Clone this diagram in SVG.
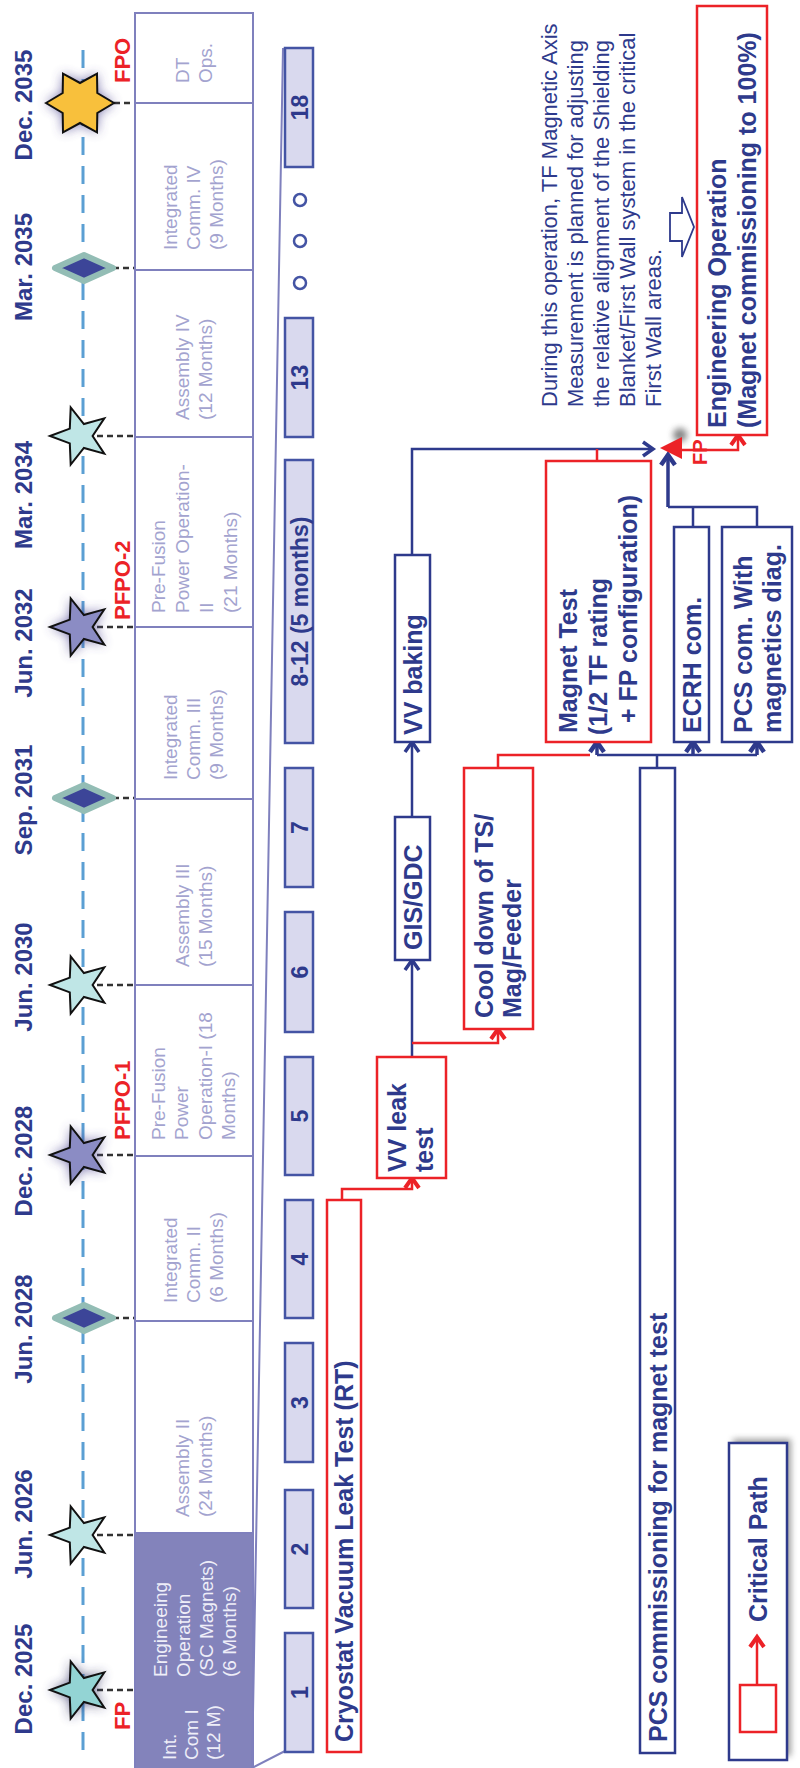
<svg xmlns="http://www.w3.org/2000/svg" width="800" height="1768" viewBox="0 0 800 1768">
<style>
text{font-family:"Liberation Sans",Arial,sans-serif}
.date{font-size:24px;font-weight:bold;fill:#2e3a8c;text-anchor:middle}
.ms{font-size:22px;font-weight:bold;fill:#ec2227}
.ph{font-size:19px;fill:#a3a3cf}
.phw{font-size:19px;fill:#eeeef8}
.cell{fill:none;stroke:#7f80bd;stroke-width:2}
.bar{fill:#d9d9ee;stroke:#4454a4;stroke-width:2.5}
.bt{font-size:23px;font-weight:bold;fill:#2e3a8c;text-anchor:middle}
.nb{fill:#fff;stroke:#2e3a8c;stroke-width:2.5}
.rb{fill:#fff;stroke:#ec2227;stroke-width:2.5}
.nt{font-size:25px;font-weight:bold;fill:#2e3a8c}
.ann{font-size:22px;fill:#2e3a8c}
.cn{fill:none;stroke:#2e3a8c;stroke-width:2.5}
.cnt{fill:none;stroke:#2e3a8c;stroke-width:3.5}
.cr{fill:none;stroke:#ec2227;stroke-width:2.5}
.dash{stroke:#333;stroke-width:2.5;stroke-dasharray:6 4}
.cstar{fill:#bfe6e6;stroke:#111;stroke-width:2}
.lstar{fill:#8b8cc4;stroke:#111;stroke-width:2}
.dia{fill:#3c4598;stroke:#93bdb5;stroke-width:6;stroke-linejoin:round}
.glow{fill:#4a3f8f;opacity:0.75;filter:url(#blur)}
</style>
<defs>
<filter id="blur" x="-60%" y="-60%" width="220%" height="220%"><feGaussianBlur stdDeviation="6"/></filter>
<filter id="blur2" x="-60%" y="-60%" width="220%" height="220%"><feGaussianBlur stdDeviation="3"/></filter>
<path id="star5" d="M0,-30 L7.4,-10.2 L28.5,-9.3 L12,3.9 L17.6,24.3 L0,12.6 L-17.6,24.3 L-12,3.9 L-28.5,-9.3 L-7.4,-10.2 Z"/>
<path id="star6" d="M0,-34 L10,-17.3 L29.4,-17 L20,0 L29.4,17 L10,17.3 L0,34 L-10,17.3 L-29.4,17 L-20,0 L-29.4,-17 L-10,-17.3 Z"/>
<path id="dia" d="M0,-29 L13,0 L0,29 L-13,0 Z"/>
<marker id="an" viewBox="-14 -10 18 20" refX="0" refY="0" markerWidth="18" markerHeight="20" markerUnits="userSpaceOnUse" orient="auto"><path d="M-10,-7 L0,0 L-10,7" fill="none" stroke="#2e3a8c" stroke-width="3.5"/></marker>
<marker id="ant" viewBox="-14 -10 18 20" refX="0" refY="0" markerWidth="18" markerHeight="20" markerUnits="userSpaceOnUse" orient="auto"><path d="M-10,-7 L0,0 L-10,7" fill="none" stroke="#2e3a8c" stroke-width="4.5"/></marker>
<marker id="ar" viewBox="-14 -10 18 20" refX="0" refY="0" markerWidth="18" markerHeight="20" markerUnits="userSpaceOnUse" orient="auto"><path d="M-10,-7 L0,0 L-10,7" fill="none" stroke="#ec2227" stroke-width="4"/></marker>
</defs>
<g transform="translate(0 1768) rotate(-90)">
<g id="timeline"><line x1="18" y1="83" x2="1728" y2="83" stroke="#5b9fd3" stroke-width="3" stroke-dasharray="18 11"/></g>
<g id="dates">
<text class="date" x="1663" y="32">Dec. 2035</text>
<text class="date" x="1501" y="32">Mar. 2035</text>
<text class="date" x="1273" y="32">Mar. 2034</text>
<text class="date" x="1125" y="32">Jun. 2032</text>
<text class="date" x="968" y="32">Sep. 2031</text>
<text class="date" x="791" y="32">Jun. 2030</text>
<text class="date" x="607" y="32">Dec. 2028</text>
<text class="date" x="439" y="32">Jun. 2028</text>
<text class="date" x="244" y="32">Jun. 2026</text>
<text class="date" x="89" y="32">Dec. 2025</text>
</g>
<g id="ms-dec2035"><line class="dash" x1="1665" y1="114" x2="1665" y2="135"/><use href="#star6" x="1665" y="80" class="glow"/><use href="#star6" x="1665" y="80" fill="#f8c03c" stroke="#111" stroke-width="2"/><text class="ms" x="1685" y="130">FPO</text></g>
<g id="ms-mar2035"><line class="dash" x1="1500" y1="113" x2="1500" y2="135"/><use href="#dia" x="1500" y="84" class="dia"/></g>
<g id="ms-mar2034"><line class="dash" x1="1332" y1="97" x2="1332" y2="135"/><use href="#star5" x="1332" y="80" class="cstar"/></g>
<g id="ms-jun2032"><line class="dash" x1="1141" y1="97" x2="1141" y2="135"/><use href="#star5" x="1141" y="80" class="glow"/><use href="#star5" x="1141" y="80" class="lstar"/><text class="ms" x="1148" y="130">PFPO-2</text></g>
<g id="ms-sep2031"><line class="dash" x1="970" y1="113" x2="970" y2="135"/><use href="#dia" x="970" y="84" class="dia"/></g>
<g id="ms-jun2030"><line class="dash" x1="783" y1="97" x2="783" y2="135"/><use href="#star5" x="783" y="80" class="cstar"/></g>
<g id="ms-dec2028"><line class="dash" x1="613" y1="97" x2="613" y2="135"/><use href="#star5" x="613" y="80" class="glow"/><use href="#star5" x="613" y="80" class="lstar"/><text class="ms" x="628" y="130">PFPO-1</text></g>
<g id="ms-jun2028"><line class="dash" x1="450" y1="113" x2="450" y2="135"/><use href="#dia" x="450" y="84" class="dia"/></g>
<g id="ms-jun2026"><line class="dash" x1="233" y1="97" x2="233" y2="135"/><use href="#star5" x="233" y="80" class="cstar"/></g>
<g id="ms-dec2025"><line class="dash" x1="78" y1="97" x2="78" y2="135"/><use href="#star5" x="78" y="80" class="glow" style="fill:#2a2a60"/><use href="#star5" x="78" y="80" class="cstar" style="fill:#93d4d4"/><text class="ms" x="38" y="130">FP</text></g>
<g id="phase-table">
<rect x="0" y="135" width="235" height="118" fill="#8383bb"/>
<rect class="cell" x="-2" y="135" width="1757" height="118"/>
<path class="cell" d="M1665,135V253M1498,135V253M1331,135V253M1141,135V253M969,135V253M783,135V253M612,135V253M447,135V253M235,135V253"/>
<text class="ph"><tspan x="1685" y="189">DT</tspan><tspan x="1685" y="212">Ops.</tspan></text>
<text class="ph"><tspan x="1518" y="177">Integrated</tspan><tspan x="1518" y="200">Comm. IV</tspan><tspan x="1518" y="223">(9 Months)</tspan></text>
<text class="ph"><tspan x="1348" y="189">Assembly IV</tspan><tspan x="1348" y="212">(12 Months)</tspan></text>
<text class="ph"><tspan x="1155" y="165">Pre-Fusion</tspan><tspan x="1155" y="189">Power Operation-</tspan><tspan x="1155" y="213">II</tspan><tspan x="1155" y="237">(21 Months)</tspan></text>
<text class="ph"><tspan x="988" y="177">Integrated</tspan><tspan x="988" y="200">Comm. III</tspan><tspan x="988" y="223">(9 Months)</tspan></text>
<text class="ph"><tspan x="801" y="189">Assembly III</tspan><tspan x="801" y="212">(15 Months)</tspan></text>
<text class="ph"><tspan x="628" y="165">Pre-Fusion</tspan><tspan x="628" y="188">Power</tspan><tspan x="628" y="212">Operation-I (18</tspan><tspan x="628" y="235">Months)</tspan></text>
<text class="ph"><tspan x="465" y="177">Integrated</tspan><tspan x="465" y="200">Comm. II</tspan><tspan x="465" y="223">(6 Months)</tspan></text>
<text class="ph"><tspan x="251" y="189">Assembly II</tspan><tspan x="251" y="212">(24 Months)</tspan></text>
<text class="phw"><tspan x="91" y="167">Engineeing</tspan><tspan x="91" y="190">Operation</tspan><tspan x="91" y="213">(SC Magnets)</tspan><tspan x="91" y="236">(6 Months)</tspan></text>
<text class="phw"><tspan x="8" y="176">Int.</tspan><tspan x="8" y="198">Com I</tspan><tspan x="8" y="220">(12 M)</tspan></text>
</g>
<g id="month-bars">
<path d="M1720,283 L0,252 L17,285" fill="none" stroke="#7f80bd" stroke-width="2"/>
<rect class="bar" x="16" y="285" width="119" height="28"/><text class="bt" x="75.5" y="308">1</text>
<rect class="bar" x="160" y="285" width="118" height="28"/><text class="bt" x="219" y="308">2</text>
<rect class="bar" x="306" y="285" width="119" height="28"/><text class="bt" x="365.5" y="308">3</text>
<rect class="bar" x="450" y="285" width="118" height="28"/><text class="bt" x="509" y="308">4</text>
<rect class="bar" x="593" y="285" width="118" height="28"/><text class="bt" x="652" y="308">5</text>
<rect class="bar" x="736" y="285" width="120" height="28"/><text class="bt" x="796" y="308">6</text>
<rect class="bar" x="881" y="285" width="119" height="28"/><text class="bt" x="940.5" y="308">7</text>
<rect class="bar" x="1025" y="285" width="283" height="28"/><text class="bt" x="1166.5" y="308">8-12 (5 months)</text>
<rect class="bar" x="1331" y="285" width="119" height="28"/><text class="bt" x="1390.5" y="308">13</text>
<circle cx="1485" cy="300" r="6" fill="none" stroke="#4454a4" stroke-width="2.5"/>
<circle cx="1527" cy="300" r="6" fill="none" stroke="#4454a4" stroke-width="2.5"/>
<circle cx="1568" cy="300" r="6" fill="none" stroke="#4454a4" stroke-width="2.5"/>
<rect class="bar" x="1601" y="285" width="119" height="28"/><text class="bt" x="1660.5" y="308">18</text>
</g>
<g id="connectors">
<path class="cr" d="M568,342 H579 V412 H590" marker-end="url(#ar)"/>
<path class="cn" d="M711,412 H808" marker-end="url(#an)"/>
<path class="cr" d="M725,412 V498 H739" marker-end="url(#ar)"/>
<path class="cn" d="M951,412 H1026" marker-end="url(#an)"/>
<path class="cn" d="M1213,412 H1319 V653" marker-end="url(#an)"/>
<path class="cr" d="M1307,597 H1319"/>
<path class="cr" d="M1000,498 H1013 V590"/>
<path class="cn" d="M1000,657 H1013 M1013,597 V757"/>
<path class="cnt" d="M1013,597 H1026" marker-end="url(#ant)"/>
<path class="cnt" d="M1013,693 H1026" marker-end="url(#ant)"/>
<path class="cnt" d="M1013,757 H1026" marker-end="url(#ant)"/>
<path class="cn" d="M1241,693 H1261 M1241,757 H1261 V668"/>
<path class="cnt" d="M1261,668 H1313" marker-end="url(#ant)"/>
<circle cx="1333" cy="680" r="7" fill="#555" opacity="0.7" filter="url(#blur2)"/>
<path d="M1320,660 L1331,682 L1309,682 Z" fill="#ec2227"/>
<path class="cr" d="M1318,682 V738 H1333" marker-end="url(#ar)"/>
<text class="ms" style="font-size:20px" x="1303" y="707">FP</text>
</g>
<g id="node-cryostat"><rect class="rb" x="16" y="327" width="552" height="34"/><text class="nt" x="26" y="353">Cryostat Vacuum Leak Test (RT)</text></g>
<g id="node-vvleak"><rect class="rb" x="590" y="377" width="121" height="69"/><text class="nt"><tspan x="596" y="406">VV leak</tspan><tspan x="596" y="433">test</tspan></text></g>
<g id="node-gis"><rect class="nb" x="808" y="395" width="143" height="35"/><text class="nt" x="818" y="422">GIS/GDC</text></g>
<g id="node-cooldown"><rect class="rb" x="739" y="464" width="261" height="69"/><text class="nt"><tspan x="750" y="493">Cool down of TS/</tspan><tspan x="750" y="521">Mag/Feeder</tspan></text></g>
<g id="node-vvbaking"><rect class="nb" x="1026" y="395" width="187" height="35"/><text class="nt" x="1033" y="422">VV baking</text></g>
<g id="node-magnet"><rect class="rb" x="1026" y="546" width="281" height="105"/><text class="nt"><tspan x="1035" y="577">Magnet Test</tspan><tspan x="1033" y="607">(1/2 TF rating</tspan><tspan x="1045" y="637">+ FP configuration)</tspan></text></g>
<g id="node-ecrh"><rect class="nb" x="1026" y="674" width="215" height="35"/><text class="nt" x="1035" y="701">ECRH com.</text></g>
<g id="node-pcsdiag"><rect class="nb" x="1026" y="722" width="215" height="70"/><text class="nt"><tspan x="1035" y="752">PCS com. With</tspan><tspan x="1035" y="781">magnetics diag.</tspan></text></g>
<g id="node-pcs"><rect class="nb" x="15" y="640" width="985" height="35"/><text class="nt" x="26" y="667">PCS commissioning for magnet test</text></g>
<g id="node-engop"><rect class="rb" x="1333" y="697" width="429" height="70"/><text class="nt"><tspan x="1340" y="726">Engineering Operation</tspan><tspan x="1340" y="756">(Magnet commissioning to 100%)</tspan></text></g>
<g id="note"><text class="ann"><tspan x="1361" y="557">During this operation, TF Magnetic Axis</tspan><tspan x="1361" y="583">Measurement is planned for adjusting</tspan><tspan x="1361" y="609">the relative alignment of the Shielding</tspan><tspan x="1361" y="635">Blanket/First Wall system in the critical</tspan><tspan x="1361" y="661">First Wall areas.</tspan></text>
<path d="M1527,670 H1555 V682 H1571 L1541,694 L1511,682 H1527 Z" fill="#fff" stroke="#2e3a8c" stroke-width="1.8"/></g>
<g id="legend">
<rect x="12" y="733" width="317" height="58" fill="#777" opacity="0.7" filter="url(#blur2)"/>
<rect x="8" y="729" width="317" height="58" fill="#fff" stroke="#2e3a8c" stroke-width="2.5"/>
<rect x="36" y="740" width="47" height="36" fill="#fff" stroke="#ec2227" stroke-width="2.5"/>
<path class="cr" d="M83,757 H131" marker-end="url(#ar)"/>
<text class="nt" x="146" y="767">Critical Path</text>
</g>
</g>
</svg>
